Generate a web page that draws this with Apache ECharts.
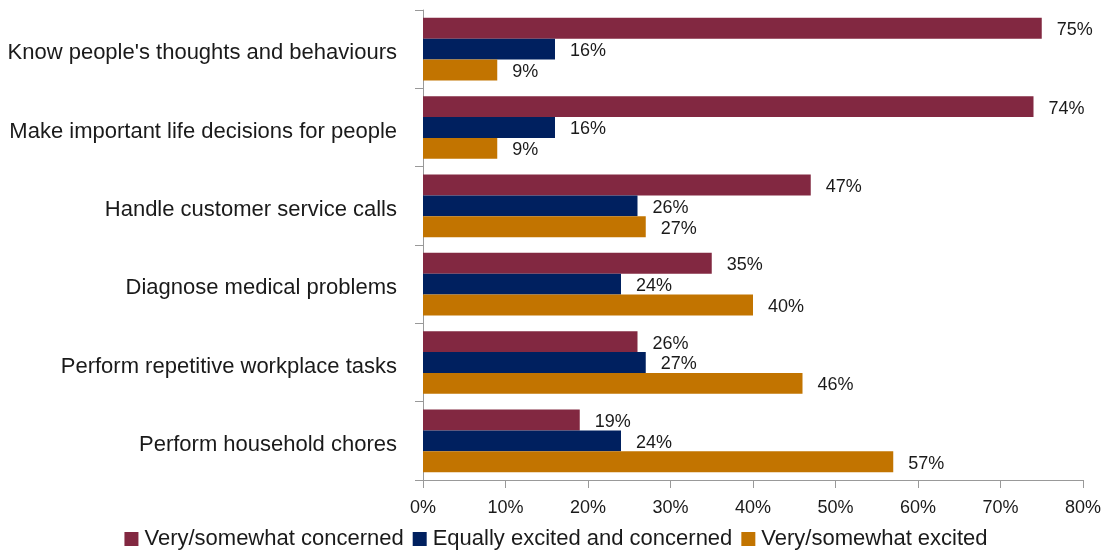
<!DOCTYPE html>
<html><head><meta charset="utf-8">
<script src="https://cdn.jsdelivr.net/npm/echarts@6/dist/echarts.min.js"></script>
<style>html,body{margin:0;padding:0;background:#fff}#c{width:1112px;height:552px}</style>
</head><body><div id="c"></div>
<script>
const categories = ["Know people's thoughts and behaviours","Make important life decisions for people","Handle customer service calls","Diagnose medical problems","Perform repetitive workplace tasks","Perform household chores"];
const seriesNames = ["Very/somewhat concerned","Equally excited and concerned","Very/somewhat excited"];
const concerned = [75,74,47,35,26,19];
const equally = [16,16,26,24,27,24];
const excited = [9,9,27,40,46,57];
const colors = ["#822841","#00205F","#C27400"];
const FONT = "'Liberation Sans',Arial,sans-serif";

const chart = echarts.init(document.getElementById('c'));
const mk = (name, data, color) => ({
  name, type:'bar', data, barGap:'0%', barCategoryGap:'20%',
  itemStyle:{color},
  label:{show:true, position:'right', distance:15, formatter:'{c}%', color:'#1a1a1a', fontSize:18, fontFamily:FONT, offset:[0,2]},
  animation:false
});
chart.setOption({
  animation:false,
  textStyle:{fontFamily:FONT},
  grid:{left:423, right:29, top:10, bottom:72, containLabel:false},
  legend:{top:523, left:'center', itemWidth:14, itemHeight:14, itemGap:9, icon:'rect',
    textStyle:{fontSize:22, color:'#1a1a1a', fontFamily:FONT, padding:[0,0,0,1]}},
  xAxis:{type:'value', min:0, max:80, interval:10,
    axisLabel:{formatter:'{value}%', fontSize:18, color:'#1a1a1a', margin:19, fontFamily:FONT},
    axisLine:{show:true, lineStyle:{color:'#999'}},
    axisTick:{show:true, length:8, lineStyle:{color:'#999'}},
    splitLine:{show:false}},
  yAxis:{type:'category', data:categories, inverse:true,
    axisLabel:{fontSize:22, color:'#1a1a1a', margin:26, fontFamily:FONT,
      formatter:(v)=>'{t|'+v+'}',
      rich:{t:{fontSize:22, color:'#1a1a1a', fontFamily:FONT, padding:[8,0,0,0]}}},
    axisLine:{show:true, lineStyle:{color:'#999'}},
    axisTick:{show:true, length:8, lineStyle:{color:'#999'}},
    splitLine:{show:false}},
  series:[mk(seriesNames[0],concerned,colors[0]), mk(seriesNames[1],equally,colors[1]), mk(seriesNames[2],excited,colors[2])]
});
</script></body></html>
